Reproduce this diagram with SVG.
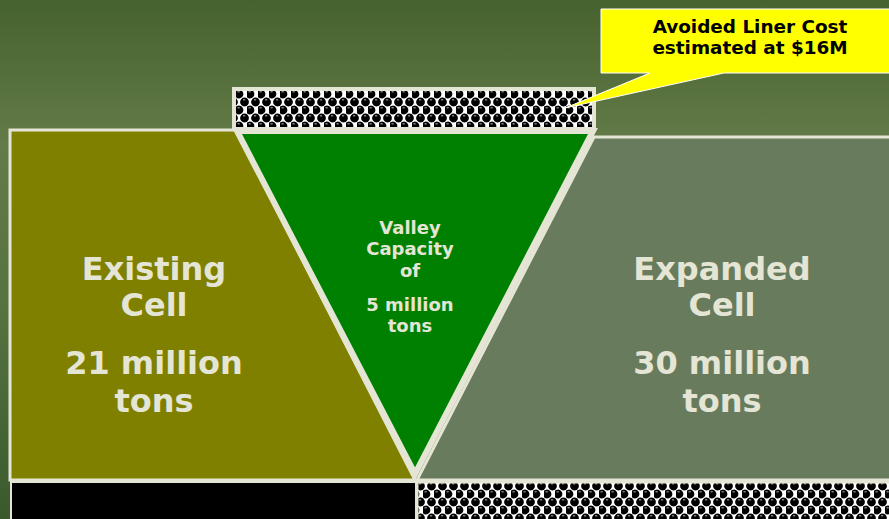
<svg xmlns="http://www.w3.org/2000/svg" width="889" height="519" viewBox="0 0 889 519">
  <defs>
    <linearGradient id="bg" x1="0" y1="0" x2="0" y2="1">
      <stop offset="0" stop-color="#46622f"/>
      <stop offset="0.28" stop-color="#637b48"/>
      <stop offset="0.6" stop-color="#557240"/>
      <stop offset="1" stop-color="#3a5a2e"/>
    </linearGradient>
    <!-- liner texture: staggered black beads on white -->
    <pattern id="liner" width="11" height="16" patternUnits="userSpaceOnUse" x="236" y="90">
      <rect width="11" height="16" fill="#ffffff"/>
      <circle cx="3" cy="4" r="4.4" fill="#000"/>
      <circle cx="8.5" cy="12" r="4.4" fill="#000"/>
      <circle cx="-2.5" cy="12" r="4.4" fill="#000"/>
      <circle cx="3" cy="20" r="4.4" fill="#000"/>
      <circle cx="8.5" cy="-4" r="4.4" fill="#000"/>
      <rect x="1.5" y="1.2" width="2.2" height="1.2" fill="#9a9a9a"/>
      <rect x="7" y="9.2" width="2.2" height="1.2" fill="#9a9a9a"/>
    </pattern>
    <style>
      .edge { stroke: #e5e5d5; stroke-linejoin: miter; }
      .big { font-family: "DejaVu Sans", Verdana, sans-serif; font-weight: bold; font-size: 32px; fill: #e5e5d5; text-anchor: middle; }
      .mid { font-family: "DejaVu Sans", Verdana, sans-serif; font-weight: bold; font-size: 18px; fill: #e5e5d5; text-anchor: middle; }
      .note { font-family: "DejaVu Sans", Verdana, sans-serif; font-weight: bold; font-size: 18.4px; fill: #000; text-anchor: middle; }
    </style>
  </defs>

  <rect width="889" height="519" fill="url(#bg)"/>

  <!-- base layers -->
  <g id="base">
    <rect x="11" y="482" width="405" height="40" fill="#000" class="edge" stroke-width="2"/>
    <rect x="417" y="482" width="475" height="40" fill="url(#liner)" class="edge" stroke-width="3"/>
  </g>

  <g id="existing-cell">
    <polygon points="10,130 236,130 415,480 10,480" fill="#808000" class="edge" stroke-width="3"/>
    <text class="big" x="154" y="280">Existing</text>
    <text class="big" x="154" y="316">Cell</text>
    <text class="big" x="154" y="374">21 million</text>
    <text class="big" x="154" y="412">tons</text>
  </g>

  <g id="expanded-cell">
    <polygon points="594,137 892,137 892,480 417,480" fill="#687c5d" class="edge" stroke-width="3"/>
    <text class="big" x="722" y="280">Expanded</text>
    <text class="big" x="722" y="316">Cell</text>
    <text class="big" x="722" y="374">30 million</text>
    <text class="big" x="722" y="412">tons</text>
  </g>

  <g id="top-liner">
    <rect x="234" y="89" width="360" height="40" fill="url(#liner)" class="edge" stroke-width="4"/>
  </g>

  <g id="valley">
    <polygon points="237,131 593,131 415,474" fill="#008000" class="edge" stroke-width="6"/>
    <text class="mid" x="410" y="234">Valley</text>
    <text class="mid" x="410" y="255">Capacity</text>
    <text class="mid" x="410" y="277">of</text>
    <text class="mid" x="410" y="311">5 million</text>
    <text class="mid" x="410" y="332">tons</text>
  </g>

  <g id="callout">
    <polygon points="601,9 892,9 892,73 724,73 565,108 650,73 601,73" fill="#ffff00" stroke="#ffffff" stroke-width="1"/>
    <text class="note" x="750" y="33">Avoided Liner Cost</text>
    <text class="note" x="750" y="54">estimated at $16M</text>
  </g>
</svg>
